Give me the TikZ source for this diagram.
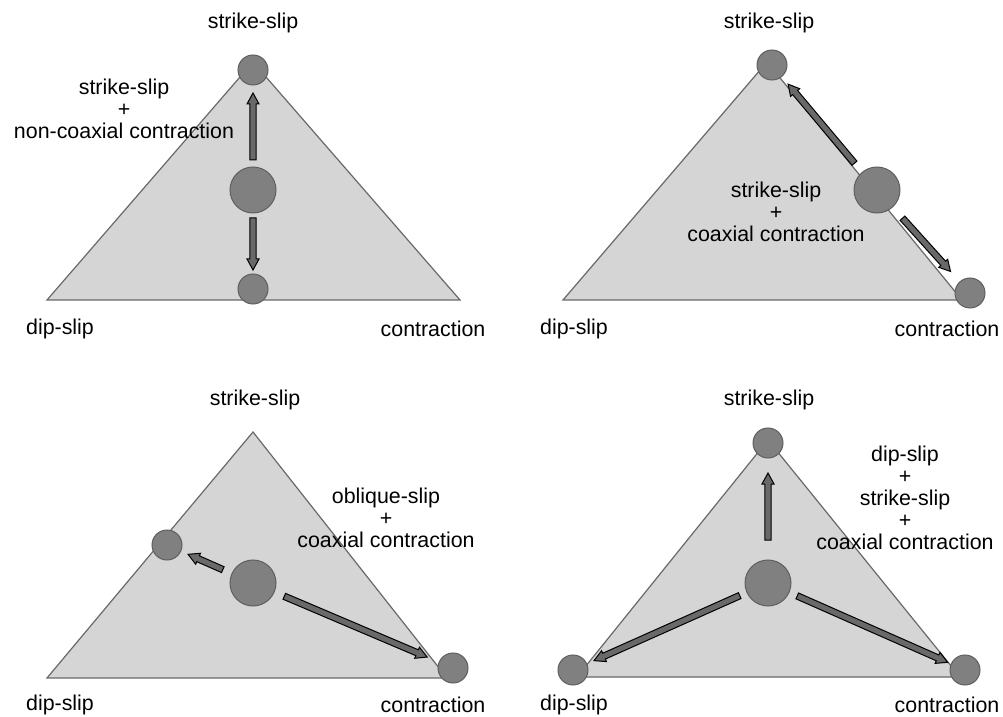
\documentclass[tikz,border=0pt]{standalone}
\usepackage{fontspec}
\setmainfont{Liberation Sans}
\usetikzlibrary{calc}

\definecolor{trifill}{RGB}{213,213,213}
\definecolor{triedge}{RGB}{105,105,105}
\definecolor{dotfill}{RGB}{128,128,128}
\definecolor{dotedge}{RGB}{95,95,95}
\definecolor{arrfill}{RGB}{105,105,105}

% fat outlined arrow between two nodes: from, to, gap at start, gap at end
\newcommand{\fatarrow}[4]{%
  \coordinate (fa s) at ($(#1)!#3!(#2)$);
  \coordinate (fa e) at ($(#2)!#4!(#1)$);
  \coordinate (fa h) at ($(fa e)!5.5pt!(fa s)$);
  \filldraw[fatarr] ($(fa s)!1.6pt!90:(fa e)$) -- ($(fa h)!1.6pt!90:(fa e)$)
    -- ($(fa h)!3pt!90:(fa e)$) -- (fa e) -- ($(fa h)!3pt!-90:(fa e)$)
    -- ($(fa h)!1.6pt!-90:(fa e)$) -- ($(fa s)!1.6pt!-90:(fa e)$) -- cycle;
}

\begin{document}
\begin{tikzpicture}[x=.5pt, y=-.5pt,
    tri/.style={fill=trifill, draw=triedge, line width=.6pt},
    dot/.style={circle, inner sep=0pt, minimum size=15pt, fill=dotfill, draw=dotedge, line width=.5pt},
    bigdot/.style={dot, minimum size=23pt},
    fatarr/.style={fill=arrfill, draw=black, line width=.5pt, line join=miter},
    lab/.style={font=\fontsize{10.7}{11}\selectfont, inner sep=0pt},
    note/.style={lab, align=center}]
\useasboundingbox (0,0) rectangle (1003,717);

% top left
\filldraw[tri] (47,300) -- (253,62) -- (460,300) -- cycle;
\node[dot] (p1top) at (253,70) {};
\node[bigdot] (p1mid) at (253,190) {};
\node[dot] (p1bot) at (253,289) {};
\fatarrow{p1mid}{p1top}{15pt}{11.5pt}
\fatarrow{p1mid}{p1bot}{14pt}{9.5pt}
\node[lab] (p1ss) at (253,23) {strike-slip};
\node[lab] (p1ds) at (60,329) {dip-slip};
\node[lab] (p1co) at (433,329) {contraction};
\node[note] (p1txt) at (124,109) {strike-slip\\+\\non-coaxial contraction};

% top right
\filldraw[tri] (563,300) -- (767,62) -- (962,300) -- cycle;
\node[dot] (p2top) at (772,65) {};
\node[bigdot] (p2mid) at (877,190) {};
\node[dot] (p2bot) at (970,293) {};
\fatarrow{p2mid}{p2top}{17.5pt}{12.5pt}
\fatarrow{p2mid}{p2bot}{19pt}{14.5pt}
\node[lab] (p2ss) at (769,23) {strike-slip};
\node[lab] (p2ds) at (574,329) {dip-slip};
\node[lab] (p2co) at (947,329) {contraction};
\node[note] (p2txt) at (776,212) {strike-slip\\+\\coaxial contraction};

% bottom left
\filldraw[tri] (47,678) -- (253,432) -- (447,678) -- cycle;
\node[dot] (p3lft) at (167,545) {};
\node[bigdot] (p3mid) at (253,583) {};
\node[dot] (p3rgt) at (453,668) {};
\fatarrow{p3mid}{p3lft}{16.5pt}{11.5pt}
\fatarrow{p3mid}{p3rgt}{17pt}{14pt}
\node[lab] (p3ss) at (255,400) {strike-slip};
\node[lab] (p3ds) at (60,705) {dip-slip};
\node[lab] (p3co) at (433,705) {contraction};
\node[note] (p3txt) at (386,518) {oblique-slip\\+\\coaxial contraction};

% bottom right
\filldraw[tri] (577,677) -- (768,440) -- (960,677) -- cycle;
\node[dot] (p4top) at (768,443) {};
\node[bigdot] (p4mid) at (768,583) {};
\node[dot] (p4lft) at (573,670) {};
\node[dot] (p4rgt) at (965,670) {};
\fatarrow{p4mid}{p4top}{21.5pt}{15pt}
\fatarrow{p4mid}{p4lft}{15.5pt}{11.5pt}
\fatarrow{p4mid}{p4rgt}{16pt}{9.5pt}
\node[lab] (p4ss) at (769,400) {strike-slip};
\node[lab] (p4ds) at (574,705) {dip-slip};
\node[lab] (p4co) at (947,705) {contraction};
\node[note] (p4txt) at (905,498) {dip-slip\\+\\strike-slip\\+\\coaxial contraction};
\end{tikzpicture}
\end{document}
